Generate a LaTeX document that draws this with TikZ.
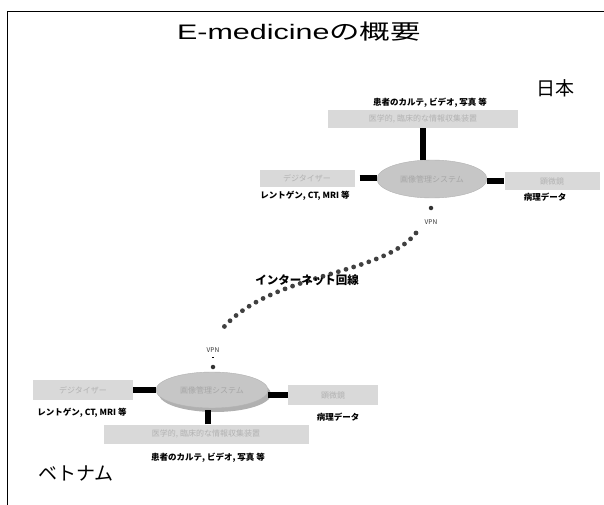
\documentclass[tikz,border=0pt]{standalone}
\usepackage{fontspec}
\setmainfont{Noto Sans CJK JP}
\newfontfamily\latinsans{Liberation Sans}
\usetikzlibrary{shapes.geometric}
\begin{document}
\begin{tikzpicture}[x=1pt,y=-1pt,
  graybox/.style={draw=none,fill=gray!30,text=gray!60,font=\fontsize{8}{8}\selectfont,inner sep=0pt,minimum height=18pt},
  lbl/.style={font=\fontsize{8.5}{9}\selectfont\bfseries,inner sep=0pt},
  grayell/.style={ellipse,draw=gray!60,fill=gray!45,text=gray!70,font=\fontsize{8}{8}\selectfont,inner sep=0pt},
  shadowell/.style={ellipse,draw=none,fill=gray!62,inner sep=0pt},
  bar/.style={line width=6pt,black},
  vdot/.style={circle,fill=black!80,inner sep=0pt,minimum size=4.5pt},
  vpnlbl/.style={font=\fontsize{6.5}{7}\selectfont,inner sep=0pt,text=black!80},
  net/.style={line width=4.8pt,line cap=round,dash pattern=on 0pt off 8pt,black!75}]
\useasboundingbox (0,0) rectangle (604,505);
% frame
\draw[line width=1pt] (7,505) -- (7,12) -- (604,12);
% titles
\node[inner sep=0pt] (title) at (299,32) {\scalebox{1.45}[1]{\fontsize{21}{23}\selectfont{\latinsans E-medicine}の概要}};
\node[font=\fontsize{19}{20}\selectfont] (japan) at (555,88) {日本};
\node[font=\fontsize{19}{20}\selectfont] (vietnam) at (76,474) {ベトナム};
% ---------------- Japan
\node[lbl] (jnote) at (430,103) {患者のカルテ, ビデオ, 写真 等};
\node[graybox,minimum width=190pt] (jtop) at (423,119) {医学的, 臨床的な情報収集装置};
\node[grayell,minimum width=110pt,minimum height=38pt] (jell) at (432,179) {画像管理システム};
\node[graybox,minimum width=95pt,minimum height=17pt] (jleft) at (307,178) {デジタイザー};
\node[lbl] (jleftl) at (305,196) {レントゲン, CT, MRI 等};
\node[graybox,minimum width=95pt] (jright) at (552,181) {顕微鏡};
\node[lbl] (jrightl) at (545,197) {病理データ};
\draw[bar] (jtop.south) -- (jtop.south |- jell.north);
\draw[bar,shorten <=5pt] (jleft.east) -- (jell.west |- jleft.east);
\draw[bar] (jell.east |- jright.west) -- (jright.west);
\node[vdot] (jdot) at (431,208) {};
\node[vpnlbl] (jvpn) at (431,222) {VPN};
% ---------------- Internet
\coordinate (netA) at (416,233);
\coordinate (netB) at (223,328);
\draw[net] (netA) .. controls (382,276) and (272,272) .. (netB);
\node[font=\fontsize{11.5}{12}\selectfont\bfseries,inner sep=1pt] (inet) at (307,280) {インターネット回線};
% ---------------- Vietnam
\node[vpnlbl] (vvpn) at (213,350) {VPN};
\draw[line width=0.6pt] (212,357) -- (214,357);
\node[vdot] (vdotn) at (213,367) {};
\node[shadowell,minimum width=112pt,minimum height=36pt] (vshadow) at (215,394) {};
\node[grayell,minimum width=112pt,minimum height=36pt] (vell) at (212,390) {画像管理システム};
\node[graybox,minimum width=100pt,minimum height=20pt] (vleft) at (83,390) {デジタイザー};
\node[lbl] (vleftl) at (82,413) {レントゲン, CT, MRI 等};
\node[graybox,minimum width=90pt,minimum height=20pt] (vright) at (333,395) {顕微鏡};
\node[lbl] (vrightl) at (338,417) {病理データ};
\node[graybox,minimum width=205pt,minimum height=19pt] (vbot) at (206,434) {医学的, 臨床的な情報収集装置};
\node[lbl] (vnote) at (208,458) {患者のカルテ, ビデオ, 写真 等};
\draw[bar] (vleft.east) -- (vell.west |- vleft.east);
\draw[bar] (vell.east |- vright.west) -- (vright.west);
\draw[bar] (vbot.north -| 208,0) -- (208,410);
\end{tikzpicture}
\end{document}
